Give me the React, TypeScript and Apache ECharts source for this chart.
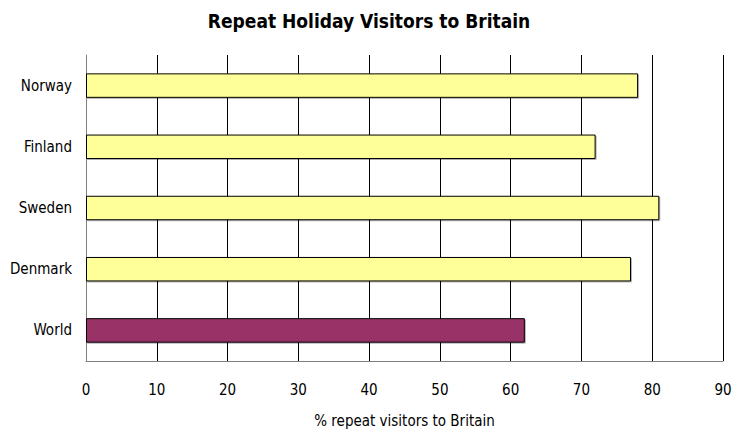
import React, { useEffect, useRef } from "react";
import * as echarts from "echarts";

const categories = ["Norway", "Finland", "Sweden", "Denmark", "World"];
const values = [78, 72, 81, 77, 62];
const barColors = ["#FFFF99", "#FFFF99", "#FFFF99", "#FFFF99", "#993366"];
const xTicks = { min: 0, max: 90, interval: 10 };

const FONT = "'Liberation Sans Narrow', 'Arial Narrow', 'DejaVu Sans Condensed', sans-serif";

export default function App() {
  const ref = useRef<HTMLDivElement>(null);
  useEffect(() => {
    if (!ref.current) return;
    const chart = echarts.init(ref.current, null, { renderer: "svg" });
    chart.setOption({
      animation: false,
      backgroundColor: "#ffffff",
      title: {
        text: "Repeat Holiday Visitors to Britain",
        left: "center",
        top: 6,
        textStyle: { fontFamily: FONT, fontSize: 19, fontWeight: "bold", color: "#000" },
      },
      grid: { left: 86, right: 15, top: 55, bottom: 70, containLabel: false },
      xAxis: {
        type: "value",
        min: xTicks.min,
        max: xTicks.max,
        interval: xTicks.interval,
        name: "% repeat visitors to Britain",
        nameLocation: "middle",
        nameGap: 52,
        nameTextStyle: { fontFamily: FONT, fontSize: 15, color: "#000" },
        axisLine: { show: true, lineStyle: { color: "#808080", width: 1 } },
        axisTick: { show: false },
        axisLabel: { fontFamily: FONT, fontSize: 15, color: "#000", margin: 21 },
        splitLine: { show: true, lineStyle: { color: "#000", width: 1 } },
      },
      yAxis: {
        type: "category",
        data: categories,
        inverse: true,
        axisLine: { show: true, lineStyle: { color: "#808080", width: 1 } },
        axisTick: { show: false },
        axisLabel: { fontFamily: FONT, fontSize: 15, color: "#000", margin: 14 },
        splitLine: { show: false },
      },
      series: [
        {
          type: "bar",
          data: values.map((v, i) => ({
            value: v,
            itemStyle: { color: barColors[i] },
          })),
          barWidth: "40%",
          itemStyle: {
            borderColor: "#000",
            borderWidth: 1,
            shadowColor: "rgba(0,0,0,0.3)",
            shadowOffsetX: 1,
            shadowOffsetY: 1,
            shadowBlur: 1,
          },
        },
      ],
    });
    return () => chart.dispose();
  }, []);
  return <div ref={ref} style={{ width: 738, height: 433, position: "absolute", left: 0, top: 0 }} />;
}
